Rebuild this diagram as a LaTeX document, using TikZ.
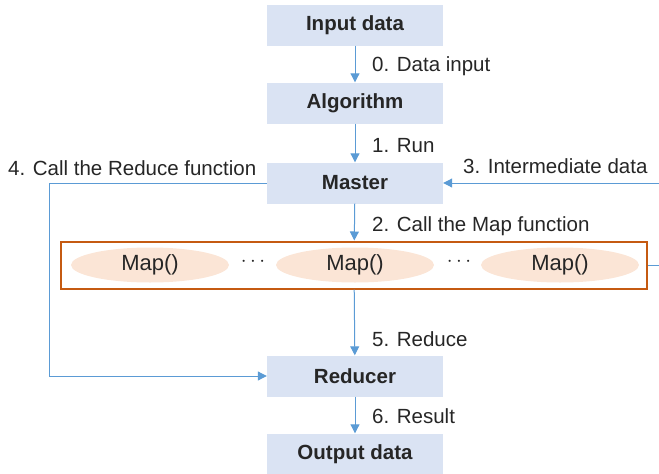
\documentclass[tikz,border=0pt]{standalone}
\usepackage{fontspec}
\setmainfont{Liberation Sans}
\usetikzlibrary{arrows.meta,positioning,calc,shapes.geometric}

\definecolor{boxblue}{HTML}{DAE3F3}
\definecolor{arrowblue}{HTML}{5B9BD5}
\definecolor{mappeach}{HTML}{FBE5D6}
\definecolor{frameorange}{HTML}{C55A11}
\definecolor{textgray}{HTML}{262626}

\tikzset{
    stage/.style={rectangle, fill=boxblue, minimum width=176pt, minimum height=41pt, inner sep=0pt, font=\fontsize{20.5}{24}\selectfont\bfseries, text=textgray},
    mapper/.style={ellipse, fill=mappeach, minimum width=158pt, minimum height=35pt, inner sep=0pt, font=\fontsize{22}{26}\selectfont, text=textgray},
    flow/.style={-{Triangle[length=9pt,width=9pt]}, draw=arrowblue, line width=1pt},
    steplabel/.style={anchor=west, inner sep=0pt, font=\fontsize{20.5}{24}\selectfont, text=textgray}
}

\begin{document}
\begin{tikzpicture}[x=1pt,y=-1pt]
        \useasboundingbox (0,0) rectangle (659,474);

        % Stage boxes
        \node[stage] (input) at (355,25) {Input data};
        \node[stage] (algo) at (355,103) {Algorithm};
        \node[stage] (master) at (355,183) {Master};
        \node[stage] (reducer) at (355,376) {Reducer};
        \node[stage] (output) at (355,454) {Output data};

        % Map frame and mappers
        \node[rectangle, draw=frameorange, line width=2pt, minimum width=586pt, minimum height=47pt, inner sep=0pt] (mapbox) at (354,265) {};
        \node[mapper] (map1) at (150,265) {Map()};
        \node[mapper] (map2) at (355,265) {Map()};
        \node[mapper] (map3) at (560,265) {Map()};
        \node[font=\fontsize{20}{24}\selectfont, text=textgray] (dots1) at (253,262) {$\cdots$};
        \node[font=\fontsize{20}{24}\selectfont, text=textgray] (dots2) at (459,262) {$\cdots$};

        % Corner points of the side connectors
        \coordinate (leftturn) at (49,183);
        \coordinate (rightturn) at (663,265);

        % Main flow
        \draw[flow] (input) -- (algo);
        \draw[flow] (algo) -- (master);
        \draw[flow] (master) -- (mapbox);
        \draw[flow] (mapbox) -- (reducer);
        \draw[flow] (reducer) -- (output);

        % Side connectors
        \draw[flow] (mapbox.east) -- (rightturn) |- (master.east);
        \draw[flow] (master.west) -- (leftturn) |- (reducer.west);

        % Step labels
        \node[steplabel] (l0) at (372,66) {0. Data input};
        \node[steplabel] (l1) at (372,146) {1. Run};
        \node[steplabel] (l2) at (372,226) {2. Call the Map function};
        \node[steplabel] (l3) at (463,166) {3. Intermediate data};
        \node[steplabel] (l4) at (8,168) {4. Call the Reduce function};
        \node[steplabel] (l5) at (372,339) {5. Reduce};
        \node[steplabel] (l6) at (372,416) {6. Result};
\end{tikzpicture}
\end{document}
